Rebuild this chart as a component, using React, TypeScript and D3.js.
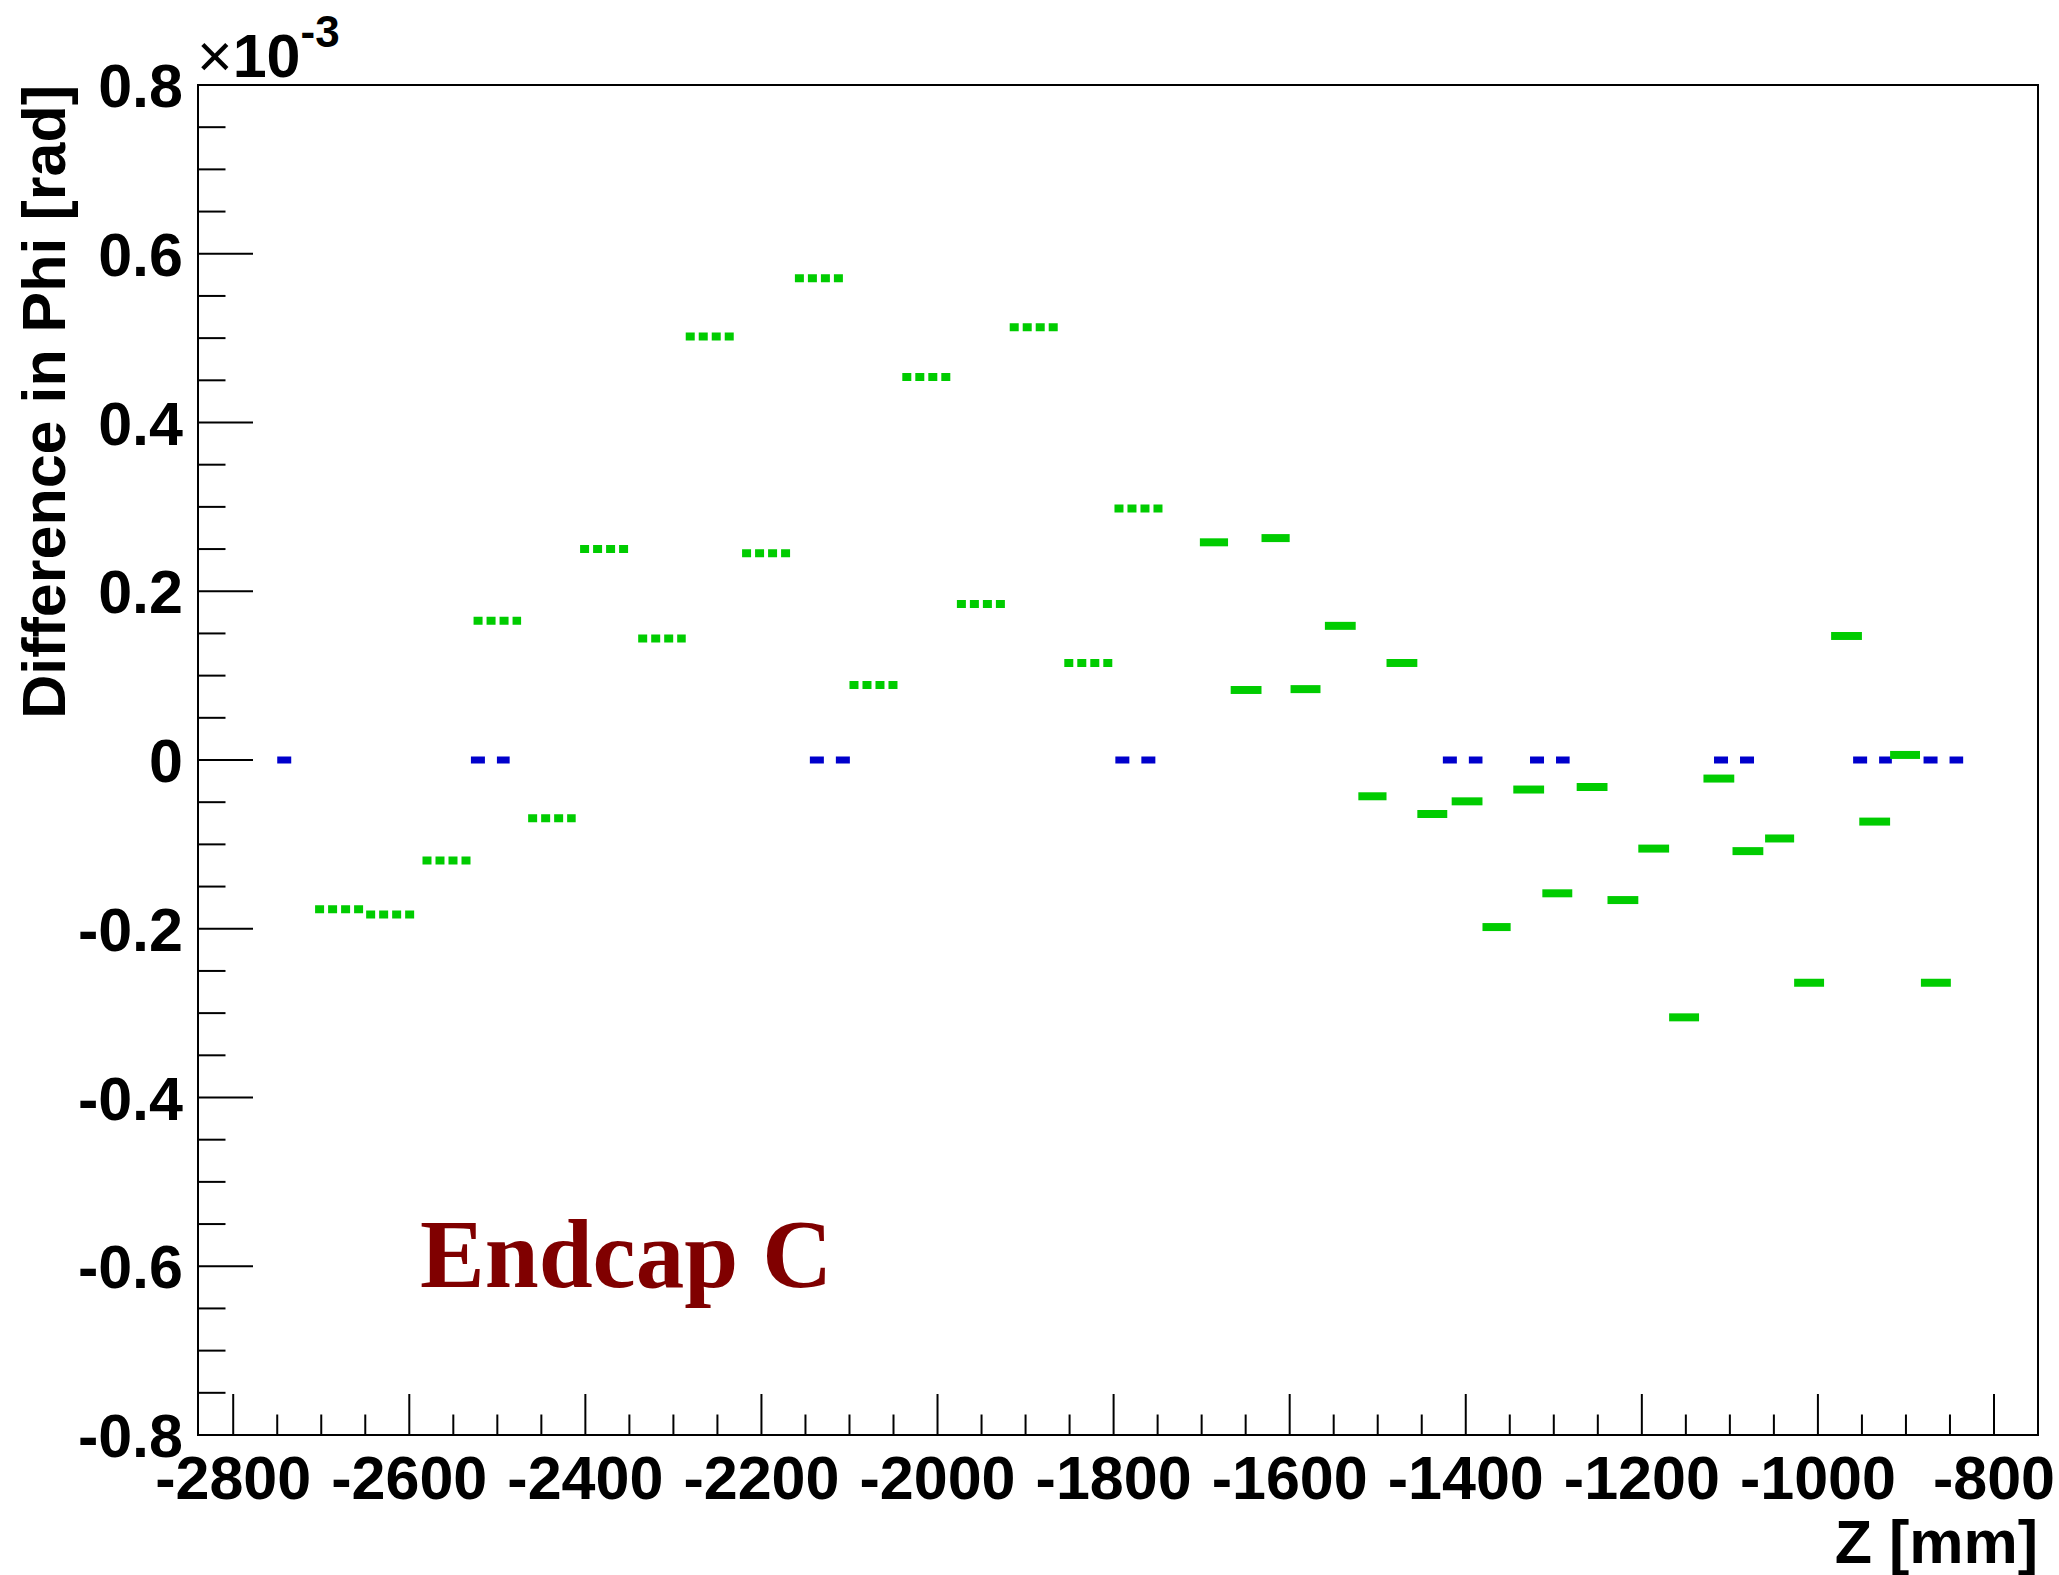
import * as d3 from "d3";
import { useEffect, useRef } from "react";

// Outer wheel modules (dotted green): z range [mm] and phi difference [1e-3 rad]
const outerZStart = [-2707, -2649, -2585, -2527, -2465, -2406, -2340, -2286, -2222, -2162, -2100, -2040, -1978, -1918, -1856, -1799];
const outerZEnd = [-2651, -2592, -2530, -2473, -2411, -2348, -2286, -2229, -2167, -2107, -2045, -1985, -1923, -1863, -1801, -1744];
const outerDPhi = [-0.177, -0.183, -0.119, 0.165, -0.069, 0.25, 0.144, 0.502, 0.245, 0.571, 0.089, 0.454, 0.185, 0.513, 0.115, 0.298];

// Inner wheel modules (solid green)
const innerZStart = [-1702, -1667, -1632, -1599, -1560, -1522, -1490, -1455, -1416, -1381, -1346, -1313, -1274, -1239, -1204, -1169, -1130, -1097, -1060, -1027, -985, -953, -918, -883];
const innerZEnd = [-1670, -1632, -1600, -1565, -1525, -1490, -1455, -1421, -1381, -1349, -1311, -1279, -1239, -1204, -1169, -1135, -1095, -1062, -1027, -993, -950, -918, -884, -849];
const innerDPhi = [0.258, 0.083, 0.263, 0.084, 0.159, -0.043, 0.115, -0.064, -0.049, -0.198, -0.035, -0.158, -0.032, -0.166, -0.105, -0.305, -0.022, -0.108, -0.093, -0.264, 0.147, -0.073, 0.006, -0.264];

// Reference modules (dashed blue)
const refZStart = [-2750, -2530, -2145, -1798, -1426, -1327, -1118, -960, -880];
const refZEnd = [-2730, -2486, -2095, -1751, -1381, -1282, -1072, -916, -835];
const refDPhi = [0, 0, 0, 0, 0, 0, 0, 0, 0];

const xDomain = [-2840, -750];
const yDomain = [-0.8, 0.8];

const W = 2059;
const H = 1575;
const frame = { left: 198, top: 85, right: 2038, bottom: 1435 };
const font = "'Liberation Sans', Arial, Helvetica, sans-serif";
const fs = 61;

const App: React.FC = () => {
  const ref = useRef<SVGSVGElement>(null);

  useEffect(() => {
    if (!ref.current) return;
    const svg = d3.select(ref.current);
    svg.selectAll("*").remove();

    const x = d3.scaleLinear().domain(xDomain).range([frame.left, frame.right]);
    const y = d3.scaleLinear().domain(yDomain).range([frame.bottom, frame.top]);

    svg.append("rect").attr("width", W).attr("height", H).attr("fill", "white");

    // segments
    const drawSegs = (
      starts: number[],
      ends: number[],
      vals: number[],
      color: string,
      width: number,
      dash: string | null
    ) => {
      svg
        .append("g")
        .selectAll("line")
        .data(starts.map((s, i) => ({ s, e: ends[i], v: vals[i] })))
        .enter()
        .append("line")
        .attr("x1", (d) => x(d.s))
        .attr("x2", (d) => x(d.e))
        .attr("y1", (d) => y(d.v))
        .attr("y2", (d) => y(d.v))
        .attr("stroke", color)
        .attr("stroke-width", width)
        .attr("stroke-dasharray", dash);
    };
    drawSegs(refZStart, refZEnd, refDPhi, "#0000cc", 7, "14 12");
    drawSegs(outerZStart, outerZEnd, outerDPhi, "#00cc00", 8, "9 4");
    drawSegs(innerZStart, innerZEnd, innerDPhi, "#00cc00", 8, null);

    // frame
    svg
      .append("rect")
      .attr("x", frame.left)
      .attr("y", frame.top)
      .attr("width", frame.right - frame.left)
      .attr("height", frame.bottom - frame.top)
      .attr("fill", "none")
      .attr("stroke", "black")
      .attr("stroke-width", 2);

    // x ticks
    const xMajor = x.ticks(10);
    const xMinor = d3.range(-2800, xDomain[1] + 1, 50).filter((v) => !xMajor.includes(v));
    const xAxis = svg.append("g").attr("stroke", "black").attr("stroke-width", 2);
    xAxis
      .selectAll("line.maj")
      .data(xMajor)
      .enter()
      .append("line")
      .attr("x1", (d) => x(d))
      .attr("x2", (d) => x(d))
      .attr("y1", frame.bottom)
      .attr("y2", frame.bottom - 41);
    xAxis
      .selectAll("line.min")
      .data(xMinor)
      .enter()
      .append("line")
      .attr("x1", (d) => x(d))
      .attr("x2", (d) => x(d))
      .attr("y1", frame.bottom)
      .attr("y2", frame.bottom - 20.5);
    svg
      .append("g")
      .selectAll("text")
      .data(xMajor)
      .enter()
      .append("text")
      .attr("x", (d) => x(d))
      .attr("y", 1499)
      .attr("text-anchor", "middle")
      .style("font-family", font)
      .style("font-weight", "bold")
      .style("font-size", `${fs}px`)
      .text((d) => `${d}`);

    // y ticks
    const yMajor = d3.range(-4, 5).map((i) => i * 0.2);
    const yMinor = d3.range(-16, 17).filter((i) => i % 4 !== 0).map((i) => i * 0.05);
    const yAxis = svg.append("g").attr("stroke", "black").attr("stroke-width", 2);
    yAxis
      .selectAll("line.maj")
      .data(yMajor)
      .enter()
      .append("line")
      .attr("x1", frame.left)
      .attr("x2", frame.left + 55)
      .attr("y1", (d) => y(d))
      .attr("y2", (d) => y(d));
    yAxis
      .selectAll("line.min")
      .data(yMinor)
      .enter()
      .append("line")
      .attr("x1", frame.left)
      .attr("x2", frame.left + 27.5)
      .attr("y1", (d) => y(d))
      .attr("y2", (d) => y(d));
    svg
      .append("g")
      .selectAll("text")
      .data(yMajor)
      .enter()
      .append("text")
      .attr("x", 183)
      .attr("y", (d) => y(d) + 22)
      .attr("text-anchor", "end")
      .style("font-family", font)
      .style("font-weight", "bold")
      .style("font-size", `${fs}px`)
      .text((d) => (Math.abs(d) < 1e-9 ? "0" : d.toFixed(1)));

    // exponent
    const expo = svg
      .append("text")
      .attr("x", 197)
      .attr("y", 77)
      .style("font-family", font)
      .style("font-size", `${fs}px`);
    expo.append("tspan").text("×");
    expo.append("tspan").style("font-weight", "bold").text("10");
    expo
      .append("tspan")
      .attr("dy", -30)
      .style("font-weight", "bold")
      .style("font-size", "44px")
      .text("-3");

    // axis titles
    svg
      .append("text")
      .attr("transform", `translate(65, ${frame.top}) rotate(-90)`)
      .attr("text-anchor", "end")
      .style("font-family", font)
      .style("font-weight", "bold")
      .style("font-size", `${fs}px`)
      .text("Difference in Phi [rad]");
    svg
      .append("text")
      .attr("x", frame.right)
      .attr("y", 1563)
      .attr("text-anchor", "end")
      .style("font-family", font)
      .style("font-weight", "bold")
      .style("font-size", `${fs}px`)
      .text("Z [mm]");

    svg
      .append("text")
      .attr("x", 420)
      .attr("y", 1287)
      .style("font-family", "'Liberation Serif', 'Times New Roman', serif")
      .style("font-weight", "bold")
      .style("font-size", "97px")
      .style("fill", "#800000")
      .text("Endcap C");
  }, []);

  return (
    <svg
      ref={ref}
      width={W}
      height={H}
      style={{ position: "absolute", left: 0, top: 0, display: "block" }}
    ></svg>
  );
};

export default App;
